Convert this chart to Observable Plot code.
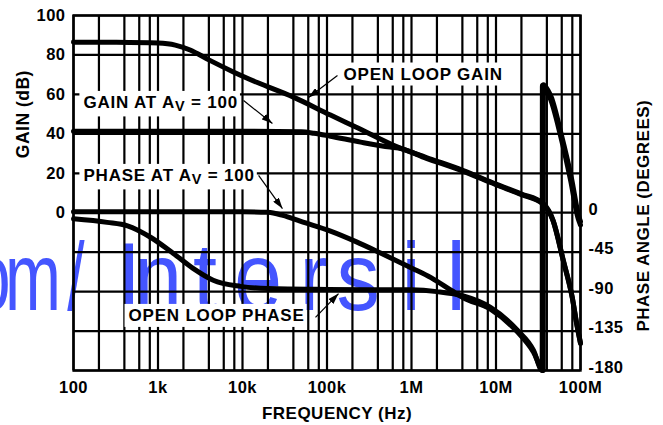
<!DOCTYPE html>
<html><head><meta charset="utf-8">
<script src="https://cdn.jsdelivr.net/npm/d3@7"></script>
<script src="https://cdn.jsdelivr.net/npm/@observablehq/plot@0.6"></script>
<style>
html,body{margin:0;padding:0;background:#fff;}
#chart{position:relative;width:663px;height:425px;overflow:hidden;}
#chart svg text{font-family:"Liberation Sans",Arial,sans-serif;font-weight:bold;letter-spacing:0.5px;fill:#000;}
#chart svg text.lbl{letter-spacing:0.8px;}
#chart svg text.wm{font-weight:normal;letter-spacing:0;fill:#4455ff;}
</style></head><body><div id="chart"></div>
<script>
// ---- tick values & labels ----
const freqTicks = [1e2, 1e3, 1e4, 1e5, 1e6, 1e7, 1e8];
const freqTickLabels = ["100", "1k", "10k", "100k", "1M", "10M", "100M"];
const gainTicks = [0, 20, 40, 60, 80, 100];
const phaseTicks = [0, -45, -90, -135, -180];
const gainGrid = [-80, -60, -40, -20, 0, 20, 40, 60, 80, 100];
const gridMultipliers = [1, 2, 4, 6, 8];
const degPerDb = 2.25; // phase axis: 45 degrees per 20 dB division

// ---- series: [frequency Hz, value] ----
const openLoopGain = [
  [100, 86.5], [300, 86.4], [1000, 86], [1600, 85], [2400, 82.5], [4000, 77.5],
  [7800, 71.4], [15000, 66], [40000, 58.6], [110000, 49.5], [250000, 42.3],
  [676000, 33.4], [1.5e6, 28], [4.1e6, 21.4], [1e7, 14.5], [2e7, 9.5],
  [3.6e7, 4.7], [4.75e7, -4], [6.25e7, -24], [8e7, -43], [9e7, -56], [1e8, -66]
];
const gainAv100 = [
  [100, 41.3], [1e4, 41.3], [5e4, 41], [7e4, 40.3], [1.1e5, 38.8], [2.5e5, 35.8],
  [5.6e5, 33.3], [7e5, 32.8], [1.5e6, 27.6], [4.1e6, 21], [1e7, 14.2], [2e7, 9.2],
  [3.6e7, 4.4], [4.75e7, -4.3], [6.25e7, -24.3], [8e7, -43.3], [9e7, -56.3], [1e8, -66.3]
];
const openLoopPhase = [
  [100, -7], [250, -11], [436, -15], [815, -28], [1520, -46.5], [2600, -63.5],
  [4500, -77], [9500, -84], [2e4, -86.5], [1e5, -87.5], [1e6, -88], [2e6, -90],
  [4.1e6, -95], [8.6e6, -108], [1.79e7, -134], [2.78e7, -157], [3.52e7, -180],
  [3.54e7, 145], [4.0e7, 138], [4.4e7, 130], [5.8e7, 88], [7.6e7, 38], [9.4e7, -7], [1e8, -14]
];
const phaseAv100 = [
  [100, 1], [1e4, 1], [2e4, 0.5], [3e4, -3], [4.9e4, -10], [1.1e5, -21], [2.2e5, -33],
  [4.3e5, -46], [1e6, -63], [1.7e6, -74], [3e6, -89], [4.1e6, -97], [8.6e6, -110],
  [1.79e7, -136], [2.78e7, -159], [3.62e7, -180], [3.64e7, 146], [4.1e7, 140],
  [4.5e7, 132], [5.9e7, 90], [7.8e7, 40], [9.6e7, -5], [1e8, -10]
];

// ---- annotations (frequency, dB) ----
const labelText = ["OPEN LOOP GAIN", "GAIN AT A_V = 100", "PHASE AT A_V = 100", "OPEN LOOP PHASE"];
const labelFreq = [1.57e5, 131, 131, 448];
const labelGain = [70.3, 55.9, 18.9, -52.1];
const leaderFrom = [[1.33e5, 69.6], [1.03e4, 56.9], [1.55e4, 18.9], [7.31e4, -53.1]];
const leaderTo = [[6.04e4, 58.4], [2.26e4, 45.2], [2.97e4, 2.1], [1.37e5, -41]];

const xGrid = freqTicks.flatMap(d => gridMultipliers.map(m => d * m)).filter(v => v <= 1e8 * 1.0001);
const labels = labelText.map((t, i) => ({text: t, f: labelFreq[i], g: labelGain[i]}));
const leaders = leaderFrom.map((a, i) => ({x1: a[0], y1: a[1], x2: leaderTo[i][0], y2: leaderTo[i][1]}));
const toPos = d => d[1] / degPerDb;

const FS = 16.5, LFS = 17;
const lineStyle = {x: d => d[0], stroke: "black", strokeWidth: 5, curve: "monotone-x", strokeLinejoin: "round"};

const svg = Plot.plot({
  width: 663, height: 425,
  marginLeft: 73, marginRight: 83, marginTop: 15, marginBottom: 55,
  x: {type: "log", domain: [1e2, 1e8]},
  y: {domain: [-80, 100]},
  marks: [
    Plot.gridX(xGrid, {stroke: "black", strokeOpacity: 1, strokeWidth: 2.2}),
    Plot.gridY(gainGrid, {stroke: "black", strokeOpacity: 1, strokeWidth: 2.2}),
    Plot.line(openLoopGain, {...lineStyle, y: d => d[1]}),
    Plot.line(gainAv100, {...lineStyle, y: d => d[1]}),
    Plot.line(openLoopPhase, {...lineStyle, y: toPos}),
    Plot.line(phaseAv100, {...lineStyle, y: toPos}),
    Plot.link(leaders, {x1: "x1", y1: "y1", x2: "x2", y2: "y2", stroke: "black", strokeWidth: 1.2}),
    Plot.text(labels, {x: "f", y: "g", text: "text", textAnchor: "start", fontSize: LFS, fontWeight: "bold"}),
    Plot.frame({stroke: "black", strokeWidth: 2.4}),
    Plot.axisX(freqTicks, {anchor: "bottom", tickSize: 0, tickPadding: 11, label: null,
      tickFormat: d => freqTickLabels[freqTicks.indexOf(d)], fontSize: FS, fontWeight: "bold"}),
    Plot.axisY(gainTicks, {anchor: "left", tickSize: 0, tickPadding: 8, label: null,
      fontSize: FS, fontWeight: "bold"}),
    Plot.axisY(phaseTicks.map(p => p / degPerDb), {anchor: "right", tickSize: 0, tickPadding: 8, label: null, dy: -3,
      tickFormat: d => String(Math.round(d * degPerDb) || 0), fontSize: FS, fontWeight: "bold"}),
    Plot.text(["FREQUENCY (Hz)"], {frameAnchor: "bottom", lineAnchor: "middle", textAnchor: "middle", dx: 10, dy: 43, fontSize: 17, fontWeight: "bold"}),
    Plot.text(["GAIN (dB)"], {frameAnchor: "left", y: [50], dx: -50, rotate: -90, textAnchor: "middle", lineAnchor: "middle", fontSize: 17.5, fontWeight: "bold"}),
    Plot.text(["PHASE ANGLE (DEGREES)"], {frameAnchor: "right", y: [-1.5], dx: 63, rotate: -90, textAnchor: "middle", lineAnchor: "middle", fontSize: 17, fontWeight: "bold"})
  ]
});
document.getElementById("chart").append(svg);

const sel = d3.select(svg);

// arrowhead marker on leaders
const defs = sel.insert("defs", ":first-child");
defs.append("marker").attr("id", "ah").attr("viewBox", "0 0 11 7").attr("refX", 11).attr("refY", 3.5)
  .attr("markerWidth", 11).attr("markerHeight", 7).attr("markerUnits", "userSpaceOnUse").attr("orient", "auto")
  .append("path").attr("d", "M0,0L11,3.5L0,7Z").attr("fill", "black");
sel.selectAll("line").filter(function() { return this.getAttribute("stroke-width") === "1.2" || (this.parentNode && this.parentNode.getAttribute("stroke-width") === "1.2"); })
  .attr("marker-end", "url(#ah)");
sel.selectAll("path").filter(function() { const p = this.parentNode; return p && p.getAttribute && p.getAttribute("stroke-width") === "1.2"; })
  .attr("marker-end", "url(#ah)");

// subscript V and white label boxes
sel.selectAll("text").each(function() {
  const t = this.textContent;
  if (!labelText.includes(t)) return;
  const el = d3.select(this).classed("lbl", true);
  if (t.includes("A_V")) {
    const [a, b] = t.split("A_V");
    el.text("");
    el.append("tspan").text(a + "A");
    el.append("tspan").attr("dy", 3.5).attr("font-size", LFS * 0.85).text("V");
    el.append("tspan").attr("dy", -3.5).text(b);
  }
  const bb = this.getBBox();
  const r = document.createElementNS("http://www.w3.org/2000/svg", "rect");
  r.setAttribute("x", bb.x - 4); r.setAttribute("y", bb.y - 2);
  r.setAttribute("width", bb.width + 6); r.setAttribute("height", bb.height + 4);
  r.setAttribute("fill", "white");
  if (this.getAttribute("transform")) r.setAttribute("transform", this.getAttribute("transform"));
  this.parentNode.insertBefore(r, this);
});

// watermark behind the chart
const wmLetters = ["o", "m", "/", "I", "n", "t", "e", "r", "s", "i", "l"];
const wmCenters = [-8, 33, 76, 129, 158, 205, 258, 314, 358, 411, 456];
const wmScale = [0.7, 0.7, 0.65, 0.9, 0.9, 0.9, 0.9, 0.9, 0.9, 0.9, 0.9];
const wm = sel.insert("g", "defs + *");
wmLetters.forEach((c, i) => {
  wm.append("text").attr("class", "wm").attr("text-anchor", "middle")
    .attr("transform", `translate(${wmCenters[i]},310) scale(${wmScale[i]},1)`)
    .attr("font-size", 96).text(c);
});
</script></body></html>
